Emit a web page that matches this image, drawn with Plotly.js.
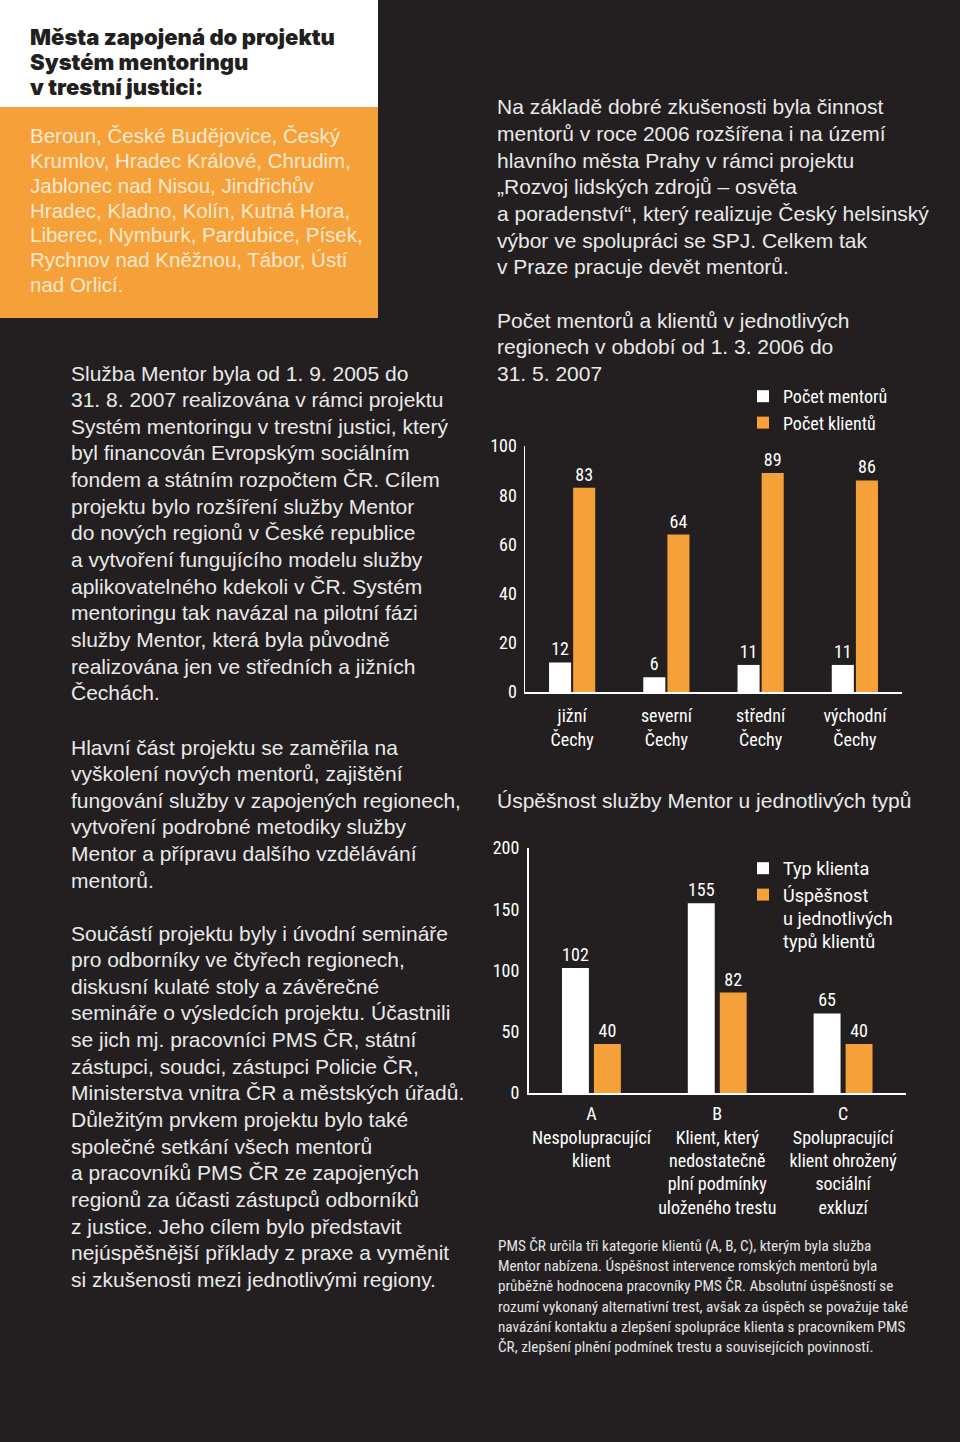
<!DOCTYPE html>
<html><head><meta charset="utf-8">
<script src="https://cdn.plot.ly/plotly-3.0.1.min.js"></script>
<style>html,body{margin:0;padding:0;background:#231f20;}#chart{width:960px;height:1442px;}
#chart .xtick text, #chart .ytick text, #chart .x2tick text, #chart .y2tick text, #chart .legendtext, #chart .bartext {font-stretch:75% !important;}
</style>
</head><body><div id="chart"></div><script>
// ---------- data ----------
const regions = ['jižní<br>Čechy', 'severní<br>Čechy', 'střední<br>Čechy', 'východní<br>Čechy'];
const mentors = [12, 6, 11, 11];
const clients = [83, 64, 89, 86];
const ticks1 = [0, 20, 40, 60, 80, 100];

const clientTypes = ['A<br>Nespolupracující<br>klient',
  'B<br>Klient, který<br>nedostatečně<br>plní podmínky<br>uloženého trestu',
  'C<br>Spolupracující<br>klient ohrožený<br>sociální<br>exkluzí'];
const typeCounts = [102, 155, 65];
const typeSuccess = [40, 82, 40];
const ticks2 = [0, 50, 100, 150, 200];

const series1Names = ['Počet mentorů', 'Počet klientů'];
const series2Names = ['Typ klienta', 'Úspěšnost<br>u jednotlivých<br>typů klientů'];

const headingLines = ['Města zapojená do projektu', 'Systém mentoringu', 'v trestní justici:'];
const citiesLines = ['Beroun, České Budějovice, Český', 'Krumlov, Hradec Králové, Chrudim,',
  'Jablonec nad Nisou, Jindřichův', 'Hradec, Kladno, Kolín, Kutná Hora,',
  'Liberec, Nymburk, Pardubice, Písek,', 'Rychnov nad Kněžnou, Tábor, Ústí', 'nad Orlicí.'];
const para1 = ['Služba Mentor byla od 1. 9. 2005 do', '31. 8. 2007 realizována v rámci projektu',
  'Systém mentoringu v trestní justici, který', 'byl financován Evropským sociálním',
  'fondem a státním rozpočtem ČR. Cílem', 'projektu bylo rozšíření služby Mentor',
  'do nových regionů v České republice', 'a vytvoření fungujícího modelu služby',
  'aplikovatelného kdekoli v ČR. Systém', 'mentoringu tak navázal na pilotní fázi',
  'služby Mentor, která byla původně', 'realizována jen ve středních a jižních', 'Čechách.'];
const para2 = ['Hlavní část projektu se zaměřila na', 'vyškolení nových mentorů, zajištění',
  'fungování služby v zapojených regionech,', 'vytvoření podrobné metodiky služby',
  'Mentor a přípravu dalšího vzdělávání', 'mentorů.'];
const para3 = ['Součástí projektu byly i úvodní semináře', 'pro odborníky ve čtyřech regionech,',
  'diskusní kulaté stoly a závěrečné', 'semináře o výsledcích projektu. Účastnili',
  'se jich mj. pracovníci PMS ČR, státní', 'zástupci, soudci, zástupci Policie ČR,',
  'Ministerstva vnitra ČR a městských úřadů.', 'Důležitým prvkem projektu bylo také',
  'společné setkání všech mentorů', 'a pracovníků PMS ČR ze zapojených',
  'regionů za účasti zástupců odborníků', 'z justice. Jeho cílem bylo představit',
  'nejúspěšnější příklady z praxe a vyměnit', 'si zkušenosti mezi jednotlivými regiony.'];
const paraRight = ['Na základě dobré zkušenosti byla činnost', 'mentorů v roce 2006 rozšířena i na území',
  'hlavního města Prahy v rámci projektu', '„Rozvoj lidských zdrojů – osvěta',
  'a poradenství“, který realizuje Český helsinský', 'výbor ve spolupráci se SPJ. Celkem tak',
  'v Praze pracuje devět mentorů.'];
const title1 = ['Počet mentorů a klientů v jednotlivých', 'regionech v období od 1. 3. 2006 do', '31. 5. 2007'];
const title2 = ['Úspěšnost služby Mentor u jednotlivých typů'];
const footnote = ['PMS ČR určila tři kategorie klientů (A, B, C), kterým byla služba',
  'Mentor nabízena. Úspěšnost intervence romských mentorů byla',
  'průběžně hodnocena pracovníky PMS ČR. Absolutní úspěšností se',
  'rozumí vykonaný alternativní trest, avšak za úspěch se považuje také',
  'navázání kontaktu a zlepšení spolupráce klienta s pracovníkem PMS',
  'ČR, zlepšení plnění podmínek trestu a souvisejících povinností.'];

// ---------- style ----------
const W = 960, H = 1442;
const BG = '#231f20', ORANGE = '#f6a03a', WHITE = '#ffffff';
const CF = 'Roboto, sans-serif';
const SF = '"Liberation Sans", Arial, sans-serif';
const bodyFont = {family: SF, size: 21, color: '#e9e9e9'};

const ann = [];
function block(lines, xPx, yPx, step, font, wrap) {
  lines.forEach((t, i) => ann.push({
    xref: 'paper', yref: 'paper', x: xPx / W, y: 1 - (yPx + i * step) / H,
    xanchor: 'left', yanchor: 'middle', align: 'left', showarrow: false,
    text: wrap ? wrap(t) : t, font: font, borderpad: 0
  }));
}
block(headingLines, 29, 37, 25, {family: 'Inter, sans-serif', size: 22, color: BG, weight: 900});
block(citiesLines, 29, 136, 24.7, {family: SF, size: 20.5, color: '#fde9cf'});
block(para1, 70, 373, 26.65, bodyFont);
block(para2, 70, 747, 26.65, bodyFont);
block(para3, 70, 933, 26.65, bodyFont);
block(paraRight, 496, 107, 26.65, bodyFont);
block(title1, 496, 320, 26.65, bodyFont);
block(title2, 496, 800, 26.65, bodyFont);
block(footnote, 497, 1246, 20.2, {family: CF, size: 15.2, color: '#e4e4e4'},
  t => '<span style="font-stretch:75%">' + t + '</span>');

const tickF = {family: CF, size: 18, color: WHITE};
const barText = {family: CF, size: 18, color: WHITE};

function barTrace(x, y, name, color, xa, ya, legend, width, offset) {
  return {
    type: 'bar', x: x, y: y, name: name, xaxis: xa, yaxis: ya, legend: legend,
    marker: {color: color, line: {width: 0}}, width: width, offset: offset,
    text: y.map(String), textposition: 'outside', textfont: barText,
    constraintext: 'none', cliponaxis: false, hoverinfo: 'skip'
  };
}

const data = [
  barTrace(regions, mentors, series1Names[0], WHITE, 'x', 'y', 'legend', 0.234, -0.245),
  barTrace(regions, clients, series1Names[1], ORANGE, 'x', 'y', 'legend', 0.234, 0.011),
  barTrace(clientTypes, typeCounts, series2Names[0], WHITE, 'x2', 'y2', 'legend2', 0.214, -0.234),
  barTrace(clientTypes, typeSuccess, series2Names[1], ORANGE, 'x2', 'y2', 'legend2', 0.214, 0.02)
];

const axLine = {showline: true, linecolor: WHITE, linewidth: 1.5, showgrid: false, zeroline: false,
  ticks: '', tickfont: tickF, fixedrange: true, tickangle: 0};

const legendBase = {xanchor: 'left', yanchor: 'top', bgcolor: 'rgba(0,0,0,0)', borderwidth: 0,
  font: {family: CF, size: 18, color: WHITE}, traceorder: 'normal', itemwidth: 30, valign: 'top'};

const layout = {
  width: W, height: H, margin: {l: 0, r: 0, t: 0, b: 0},
  paper_bgcolor: BG, plot_bgcolor: 'rgba(0,0,0,0)',
  font: {family: CF, color: WHITE, size: 18},
  barmode: 'group', showlegend: true,
  xaxis: Object.assign({}, axLine, {domain: [525 / W, 902 / W], anchor: 'y', type: 'category', range: [-0.5, 3.5], ticklabelstandoff: 7}),
  yaxis: Object.assign({}, axLine, {domain: [750 / H, 996 / H], anchor: 'x', range: [0, 100], tickvals: ticks1, ticklabelstandoff: 3}),
  xaxis2: Object.assign({}, axLine, {domain: [528.5 / W, 906 / W], anchor: 'y2', type: 'category', range: [-0.5, 2.5], ticklabelstandoff: 4}),
  yaxis2: Object.assign({}, axLine, {domain: [349 / H, 594 / H], anchor: 'x2', range: [0, 200], tickvals: ticks2, ticklabelstandoff: 4}),
  legend: Object.assign({}, legendBase, {x: 743 / W, y: 1 - 378 / H}),
  legend2: Object.assign({}, legendBase, {x: 743 / W, y: 1 - 850 / H}),
  shapes: [
    {type: 'rect', xref: 'paper', yref: 'paper', x0: 0, x1: 378 / W, y0: 1 - 107 / H, y1: 1, fillcolor: WHITE, line: {width: 0}, layer: 'below'},
    {type: 'rect', xref: 'paper', yref: 'paper', x0: 0, x1: 378 / W, y0: 1 - 318 / H, y1: 1 - 107 / H, fillcolor: ORANGE, line: {width: 0}, layer: 'below'}
  ],
  annotations: ann
};

Plotly.newPlot('chart', data, layout, {staticPlot: true, displayModeBar: false});
</script></body></html>
